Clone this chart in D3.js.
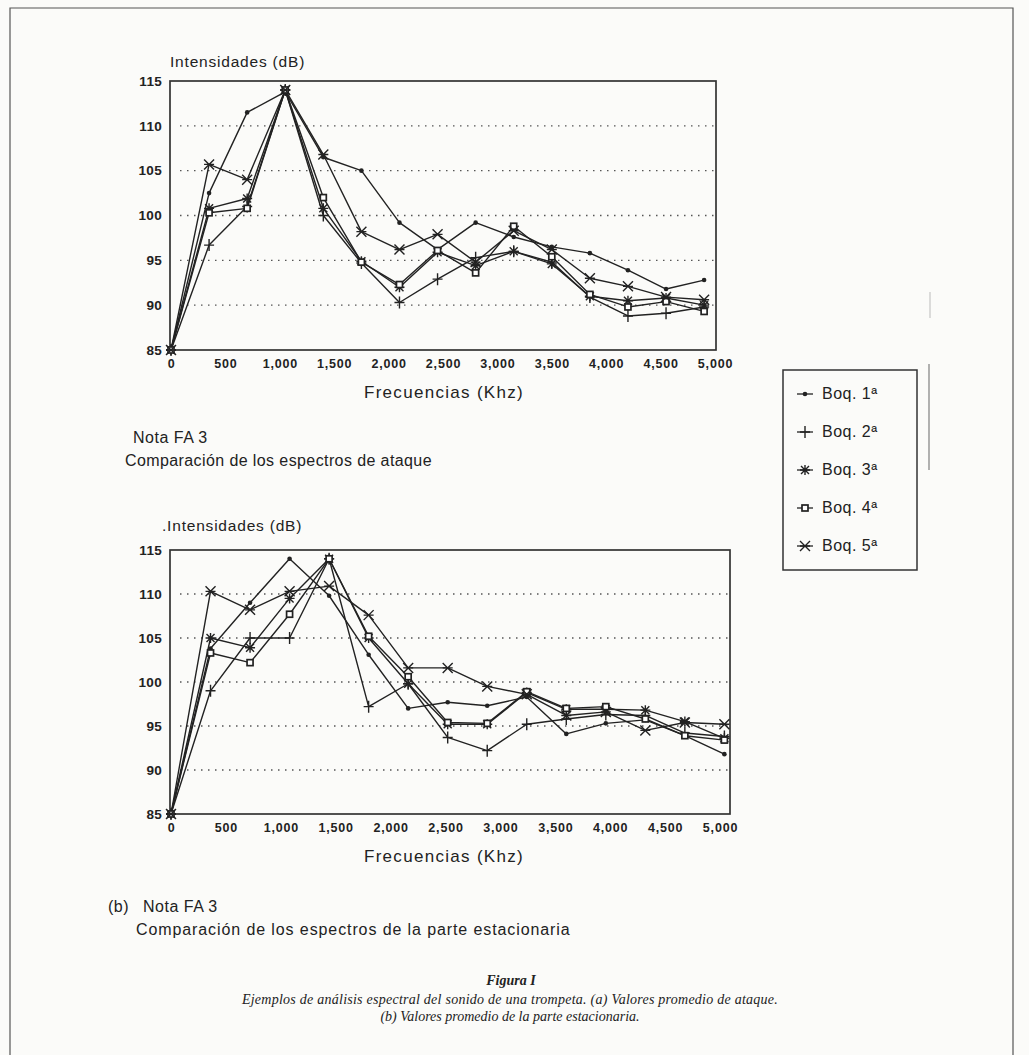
<!DOCTYPE html>
<html><head><meta charset="utf-8">
<script src="https://cdn.jsdelivr.net/npm/d3@7"></script>
<style>body{margin:0;background:#fbfbf9;}svg{display:block}</style>
</head><body>
<svg id="c" width="1029" height="1055"></svg>
<script>
// ---------- DATA ----------
const freqAtaque = [0,350,700,1050,1400,1750,2100,2450,2800,3150,3500,3850,4200,4550,4900];
const freqEstac  = [0,360,720,1080,1440,1800,2160,2520,2880,3240,3600,3960,4320,4680,5040];
const seriesNames = ["Boq. 1ª","Boq. 2ª","Boq. 3ª","Boq. 4ª","Boq. 5ª"];
const markerTypes = ["dot","plus","asterisk","square","xbar"];

// (a) attack spectra, dB
const ataqueBoq1 = [85,102.5,111.5,113.8,106.5,105.0,99.2,96.2,99.2,97.6,96.5,95.8,93.9,91.8,92.8];
const ataqueBoq2 = [85,96.7,101.0,114.0,100.0,94.7,90.3,92.9,95.3,96.0,94.8,90.9,88.8,89.1,89.8];
const ataqueBoq3 = [85,100.8,101.9,114.0,100.8,94.9,92.0,95.9,94.4,96.0,94.6,91.0,90.5,90.8,90.0];
const ataqueBoq4 = [85,100.3,100.8,114.0,102.0,94.8,92.3,96.1,93.6,98.8,95.4,91.2,89.8,90.4,89.3];
const ataqueBoq5 = [85,105.7,104.0,114.0,106.8,98.2,96.2,97.9,94.8,98.3,96.2,93.0,92.1,90.9,90.6];

// (b) stationary spectra, dB
const estacBoq1 = [85,103.8,109.0,114.0,109.8,103.1,97.0,97.7,97.3,98.3,94.1,95.3,95.7,93.9,91.8];
const estacBoq2 = [85,99.0,105.0,105.0,114.0,97.2,99.8,93.7,92.2,95.2,95.8,96.3,96.2,94.2,93.8];
const estacBoq3 = [85,105.0,103.9,109.5,114.0,105.0,99.8,95.2,95.2,98.8,96.9,96.9,96.8,95.5,93.6];
const estacBoq4 = [85,103.3,102.2,107.7,114.0,105.2,100.6,95.4,95.3,98.9,97.0,97.2,95.8,93.9,93.4];
const estacBoq5 = [85,110.3,108.2,110.3,110.9,107.6,101.6,101.6,99.5,98.6,96.2,96.6,94.5,95.4,95.2];

const yTicks = [85,90,95,100,105,110,115];
const yGrid  = [90,95,100,105,110];
const xTicks = [0,500,1000,1500,2000,2500,3000,3500,4000,4500,5000];

// ---------- DRAW ----------
const svg = d3.select("#c");
const INK = "#222";
const SANS = "'Liberation Sans', Arial, sans-serif";
const SERIF = "'Liberation Serif', 'Times New Roman', serif";

// page frame (scan border)
svg.append("path").attr("d","M10,1055 V8 H1013 V1055").attr("fill","none").attr("stroke","#555").attr("stroke-width",1.2);
svg.append("line").attr("x1",929).attr("x2",929).attr("y1",364).attr("y2",470).attr("stroke","#888").attr("stroke-width",1.3);
svg.append("line").attr("x1",930).attr("x2",930).attr("y1",292).attr("y2",318).attr("stroke","#bbb").attr("stroke-width",1);

function drawMarker(g, type, x, y) {
  const s = g.append("g").attr("transform",`translate(${x},${y})`).attr("stroke",INK).attr("stroke-width",1.4).attr("fill","none");
  if (type === "dot") {
    s.append("circle").attr("r",2.3).attr("fill",INK).attr("stroke","none");
  } else if (type === "plus") {
    s.append("path").attr("d","M-5,0H5M0,-6V6");
  } else if (type === "asterisk") {
    s.append("path").attr("d","M-5,0H5M0,-5V5M-4,-4L4,4M-4,4L4,-4");
  } else if (type === "square") {
    s.append("rect").attr("x",-3).attr("y",-3).attr("width",6).attr("height",6).attr("fill","#fff").attr("stroke-width",1.7);
  } else if (type === "xbar") {
    s.append("path").attr("d","M-5,-5L5,5M-5,5L5,-5M-5,0H5");
  }
}

function chart(cfg) {
  const g = svg.append("g");
  const x = d3.scaleLinear().domain([0,5000]).range([cfg.x0, cfg.x1]);
  const y = d3.scaleLinear().domain([85,115]).range([cfg.yb, cfg.yt]);

  // dotted grid
  g.selectAll(".grid").data(yGrid).join("line")
    .attr("x1", cfg.gx0).attr("x2", cfg.fr)
    .attr("y1", d => y(d)).attr("y2", d => y(d))
    .attr("stroke","#555").attr("stroke-width",1.4).attr("stroke-dasharray","1.5,5.5");

  // frame
  g.append("rect").attr("x",cfg.fl).attr("y",y(115)).attr("width",cfg.fr-cfg.fl).attr("height",y(85)-y(115))
    .attr("fill","none").attr("stroke","#333").attr("stroke-width",1.7);

  // y axis labels
  const ya = d3.axisLeft(y).tickValues(yTicks).tickSize(0).tickPadding(8).tickFormat(d3.format("d"));
  const yg = g.append("g").attr("transform",`translate(${cfg.fl},0)`).call(ya);
  yg.select(".domain").remove();
  yg.selectAll("text").attr("font-family",SANS).attr("font-size",13.5).attr("font-weight","bold").attr("fill",INK).attr("letter-spacing","0.3px");

  // x axis labels
  const xa = d3.axisBottom(x).tickValues(xTicks).tickSize(0).tickPadding(9).tickFormat(d3.format(","));
  const xg = g.append("g").attr("transform",`translate(0,${y(85)})`).call(xa);
  xg.select(".domain").remove();
  xg.selectAll("text").attr("font-family",SANS).attr("font-size",12.5).attr("font-weight","bold").attr("fill",INK).attr("letter-spacing","0.8px");

  // lines + markers
  const line = d3.line().x((d,i) => x(cfg.freq[i])).y(d => y(d));
  cfg.series.forEach((vals, si) => {
    g.append("path").datum(vals).attr("d", line).attr("fill","none").attr("stroke",INK).attr("stroke-width",1.4).attr("stroke-linejoin","round");
  });
  cfg.series.forEach((vals, si) => {
    vals.forEach((v,i) => drawMarker(g, markerTypes[si], x(cfg.freq[i]), y(v)));
  });

  // titles
  g.append("text").attr("x",cfg.tx).attr("y",cfg.ty).text(cfg.ytitle)
    .attr("font-family",SANS).attr("font-size",15.5).attr("fill",INK).attr("letter-spacing","0.8px");
  g.append("text").attr("x",cfg.xtx).attr("y",cfg.xty).attr("text-anchor","middle").text("Frecuencias (Khz)")
    .attr("font-family",SANS).attr("font-size",17).attr("fill",INK).attr("letter-spacing","1.3px");
}

chart({
  freq: freqAtaque,
  series: [ataqueBoq1, ataqueBoq2, ataqueBoq3, ataqueBoq4, ataqueBoq5],
  x0: 171, x1: 715, yb: 350, yt: 81, fl: 170, fr: 716, gx0: 180,
  ytitle: "Intensidades (dB)", tx: 170, ty: 67, xtx: 444, xty: 398
});
chart({
  freq: freqEstac,
  series: [estacBoq1, estacBoq2, estacBoq3, estacBoq4, estacBoq5],
  x0: 171, x1: 720, yb: 814, yt: 550, fl: 170, fr: 730, gx0: 180,
  ytitle: ".Intensidades (dB)", tx: 162, ty: 531, xtx: 444, xty: 862
});

// captions
const cap = (x,y,t,size,opts={}) => svg.append("text").attr("x",x).attr("y",y).text(t)
  .attr("font-family", opts.font || SANS).attr("font-size",size).attr("fill",INK)
  .attr("font-style", opts.style || "normal").attr("font-weight", opts.weight || "normal")
  .attr("text-anchor", opts.anchor || "start").attr("letter-spacing", opts.ls || "0.5px");

cap(133,443,"Nota FA 3",16);
cap(125,466,"Comparación de los espectros de ataque",16,{ls:"0.4px"});
cap(108,912,"(b)",16);
cap(143,912,"Nota FA 3",16);
cap(136,935,"Comparación de los espectros de la parte estacionaria",16,{ls:"0.9px"});

cap(511,985,"Figura I",14,{font:SERIF,style:"italic",weight:"bold",anchor:"middle",ls:"0px"});
cap(510,1004,"Ejemplos de análisis espectral del sonido de una trompeta. (a) Valores promedio de ataque.",14,{font:SERIF,style:"italic",anchor:"middle",ls:"0.25px"});
cap(510,1021,"(b) Valores promedio de la parte estacionaria.",14,{font:SERIF,style:"italic",anchor:"middle",ls:"0px"});

// legend
const lg = svg.append("g");
lg.append("rect").attr("x",783).attr("y",370).attr("width",134).attr("height",200)
  .attr("fill","none").attr("stroke","#333").attr("stroke-width",1.5);
const legY = d3.scalePoint().domain(seriesNames).range([394,546]);
seriesNames.forEach((n,i) => {
  const yy = legY(n);
  lg.append("line").attr("x1",797).attr("x2",813).attr("y1",yy).attr("y2",yy).attr("stroke",INK).attr("stroke-width",1.3);
  drawMarker(lg, markerTypes[i], 805, yy);
  lg.append("text").attr("x",822).attr("y",yy+5).text(n)
    .attr("font-family",SANS).attr("font-size",16).attr("fill",INK).attr("letter-spacing","0.5px");
});
</script>
</body></html>
